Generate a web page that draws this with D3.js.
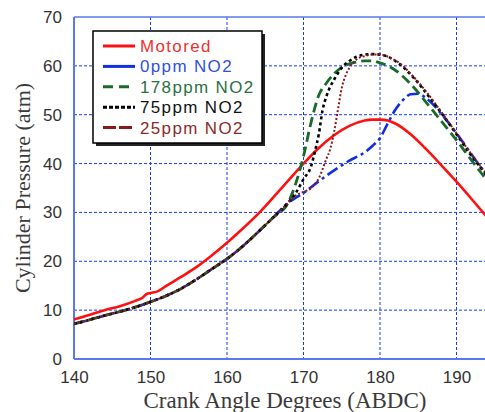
<!DOCTYPE html>
<html>
<head>
<meta charset="utf-8">
<script src="https://cdn.jsdelivr.net/npm/d3@7"></script>
<style>
  html, body { margin: 0; padding: 0; background: #fff; }
  svg { display: block; }
</style>
</head>
<body>
<div id="chart"></div>
<script>
// ---------- data ----------
const xTicks = [140, 150, 160, 170, 180, 190];
const yTicks = [0, 10, 20, 30, 40, 50, 60, 70];

const seriesNames = ["Motored", "0ppm NO2", "178ppm NO2", "75ppm NO2", "25ppm NO2"];

const motoredAngle = [140, 142, 144, 146, 148, 149, 149.5, 150, 151, 152, 154, 156, 158, 160, 162, 164, 166, 168, 170, 172, 174, 176, 178, 179, 180, 181, 182, 184, 186, 188, 190, 192, 194];
const motoredP     = [8.1, 9.0, 10.0, 10.8, 11.9, 12.6, 13.3, 13.5, 13.9, 14.9, 16.8, 18.8, 21.2, 23.8, 26.6, 29.6, 33.0, 36.5, 40.0, 43.2, 45.8, 47.7, 48.8, 49.0, 49.0, 48.8, 48.2, 46.0, 43.0, 39.7, 36.3, 32.7, 29.0];

// shared compression part of the fired cycles
const compAngle = [140, 142, 144, 146, 148, 150, 152, 154, 156, 158, 160, 162, 164, 166, 168];
const compP     = [7.2, 8.0, 8.9, 9.7, 10.6, 11.7, 12.9, 14.4, 16.3, 18.4, 20.5, 23.0, 25.9, 28.9, 32.0];

const ppm0Angle = [169, 170, 172, 174, 176, 178, 179, 180, 181, 182, 183, 184, 185, 186, 187, 188, 190, 192, 194];
const ppm0P     = [33.0, 34.0, 36.4, 38.6, 40.6, 42.3, 43.6, 45.2, 48.2, 51.0, 53.0, 54.2, 54.3, 53.4, 52.0, 50.2, 46.2, 41.8, 37.3];

const ppm178Angle = [169, 170, 171, 172, 173, 174, 175, 176, 177, 178, 179, 180, 181, 182, 184, 186, 188, 190, 192, 194];
const ppm178P     = [36.0, 41.5, 48.5, 54.0, 56.5, 58.4, 59.7, 60.4, 60.8, 61.0, 61.0, 60.6, 60.0, 59.1, 56.3, 52.6, 48.7, 44.8, 40.6, 36.5];

const ppm75Angle = [169, 170, 171, 171.5, 172, 172.5, 173, 174, 175, 176, 177, 178, 179, 180, 181, 182, 183, 184, 185, 186, 187, 188, 190, 192, 194];
const ppm75P     = [34.0, 36.8, 39.5, 42.5, 46.0, 51.0, 53.8, 57.2, 59.6, 61.0, 61.9, 62.3, 62.4, 62.3, 61.9, 61.0, 59.8, 58.2, 56.5, 54.5, 52.5, 50.4, 46.0, 41.5, 37.6];

const ppm25Angle = [169, 170, 171, 172, 173, 173.5, 174, 174.5, 175, 175.5, 176, 177, 178, 179, 180, 181, 182, 183, 184, 185, 186, 188, 190, 192, 194];
const ppm25P     = [33.5, 34.2, 35.0, 37.0, 41.0, 43.0, 46.5, 51.0, 55.5, 58.0, 59.6, 61.4, 62.0, 62.3, 62.3, 61.9, 61.1, 60.0, 58.4, 56.7, 54.8, 50.6, 46.2, 41.8, 37.8];

// ---------- styles ----------
const styles = [
  { color: "#ff1010", text: "#f03030", width: 2.6, dash: null,       legendDash: null },
  { color: "#1030e0", text: "#3050e0", width: 2.6, dash: "12,4,3,4", legendDash: null },
  { color: "#1a6a2a", text: "#2a7040", width: 2.8, dash: "10,5",     legendDash: "10,6" },
  { color: "#000000", text: "#111111", width: 2.6, dash: "3,3",      legendDash: "4,2" },
  { color: "#8a1818", text: "#8a2a2a", width: 2.0, dash: "2,2",      legendDash: "13,3" }
];

function zip(a, p) { return a.map((x, i) => ({ x: x, y: p[i] })); }
const series = [
  zip(motoredAngle, motoredP),
  zip(compAngle.concat(ppm0Angle), compP.concat(ppm0P)),
  zip(compAngle.concat(ppm178Angle), compP.concat(ppm178P)),
  zip(compAngle.concat(ppm75Angle), compP.concat(ppm75P)),
  zip(compAngle.concat(ppm25Angle), compP.concat(ppm25P))
];

// ---------- layout ----------
const W = 485, H = 412;
const mLeft = 74, mTop = 17, mBottom = 359;
const xScale = d3.scaleLinear().domain([140, 194]).range([mLeft, mLeft + 54 * 7.65]);
const yScale = d3.scaleLinear().domain([0, 70]).range([mBottom, mTop]);

const svg = d3.select("#chart").append("svg").attr("width", W).attr("height", H);

svg.append("defs").append("clipPath").attr("id", "clip")
  .append("rect").attr("x", mLeft).attr("y", mTop - 5).attr("width", W - mLeft).attr("height", mBottom - mTop + 5);

// grid
const gridColor = "#1a3cf0";
svg.append("g").selectAll("line").data(xTicks.filter(t => t > 140)).join("line")
  .attr("x1", d => xScale(d)).attr("x2", d => xScale(d))
  .attr("y1", mTop).attr("y2", mBottom)
  .attr("stroke", gridColor).attr("stroke-width", 1).attr("stroke-dasharray", "3,2");
svg.append("g").selectAll("line").data(yTicks.filter(t => t > 0 && t < 70)).join("line")
  .attr("x1", mLeft).attr("x2", W)
  .attr("y1", d => yScale(d)).attr("y2", d => yScale(d))
  .attr("stroke", gridColor).attr("stroke-width", 1).attr("stroke-dasharray", "3,2");

// frame
const frameColor = "#5a78ee";
svg.append("line").attr("x1", mLeft).attr("x2", W).attr("y1", mTop).attr("y2", mTop)
  .attr("stroke", frameColor).attr("stroke-width", 1.5);
svg.append("line").attr("x1", mLeft).attr("x2", W).attr("y1", mBottom).attr("y2", mBottom)
  .attr("stroke", frameColor).attr("stroke-width", 2);
svg.append("line").attr("x1", mLeft).attr("x2", mLeft).attr("y1", mTop).attr("y2", mBottom)
  .attr("stroke", frameColor).attr("stroke-width", 2);

// axes (labels only, via d3 axes)
const xAxis = svg.append("g").attr("transform", `translate(0,${mBottom})`)
  .call(d3.axisBottom(xScale).tickValues(xTicks).tickSize(0).tickPadding(12));
const yAxis = svg.append("g").attr("transform", `translate(${mLeft},0)`)
  .call(d3.axisLeft(yScale).tickValues(yTicks).tickSize(0).tickPadding(12));
[xAxis, yAxis].forEach(g => {
  g.select(".domain").remove();
  g.selectAll("text").attr("font-family", "'Liberation Sans', Arial, sans-serif")
    .attr("font-size", 17).attr("fill", "#333");
});

// axis titles
svg.append("text").attr("x", 285).attr("y", 408).attr("text-anchor", "middle")
  .attr("font-family", "'Liberation Serif', 'Times New Roman', serif").attr("font-size", 23)
  .attr("fill", "#3a3a3a").text("Crank Angle Degrees (ABDC)");
svg.append("text").attr("transform", "translate(30,188) rotate(-90)").attr("text-anchor", "middle")
  .attr("font-family", "'Liberation Serif', 'Times New Roman', serif").attr("font-size", 22)
  .attr("fill", "#3a3a3a").text("Cylinder Pressure (atm)");

// curves
const line = d3.line().x(d => xScale(d.x)).y(d => yScale(d.y)).curve(d3.curveMonotoneX);
const plot = svg.append("g").attr("clip-path", "url(#clip)");
series.forEach((s, i) => {
  plot.append("path").datum(s).attr("d", line)
    .attr("fill", "none").attr("stroke", styles[i].color)
    .attr("stroke-width", styles[i].width)
    .attr("stroke-dasharray", styles[i].dash)
    .attr("stroke-linejoin", "round");
});

// legend
const lg = svg.append("g");
const lx = 93, ly = 31, lw = 169, lh = 112;
lg.append("rect").attr("x", lx + 3).attr("y", ly + 3).attr("width", lw).attr("height", lh).attr("fill", "#222");
lg.append("rect").attr("x", lx).attr("y", ly).attr("width", lw).attr("height", lh)
  .attr("fill", "#fff").attr("stroke", "#000").attr("stroke-width", 1.5);
seriesNames.forEach((name, i) => {
  const yy = ly + 15 + i * 20.4;
  lg.append("line").attr("x1", 103).attr("x2", 135).attr("y1", yy).attr("y2", yy)
    .attr("stroke", styles[i].color).attr("stroke-width", 3)
    .attr("stroke-dasharray", styles[i].legendDash);
  lg.append("text").attr("transform", `translate(140,${yy + 6}) scale(1.06,1)`)
    .attr("font-family", "'Liberation Sans', Arial, sans-serif").attr("font-size", 16)
    .attr("letter-spacing", 1.3)
    .attr("fill", styles[i].text).text(name);
});
</script>
</body>
</html>
